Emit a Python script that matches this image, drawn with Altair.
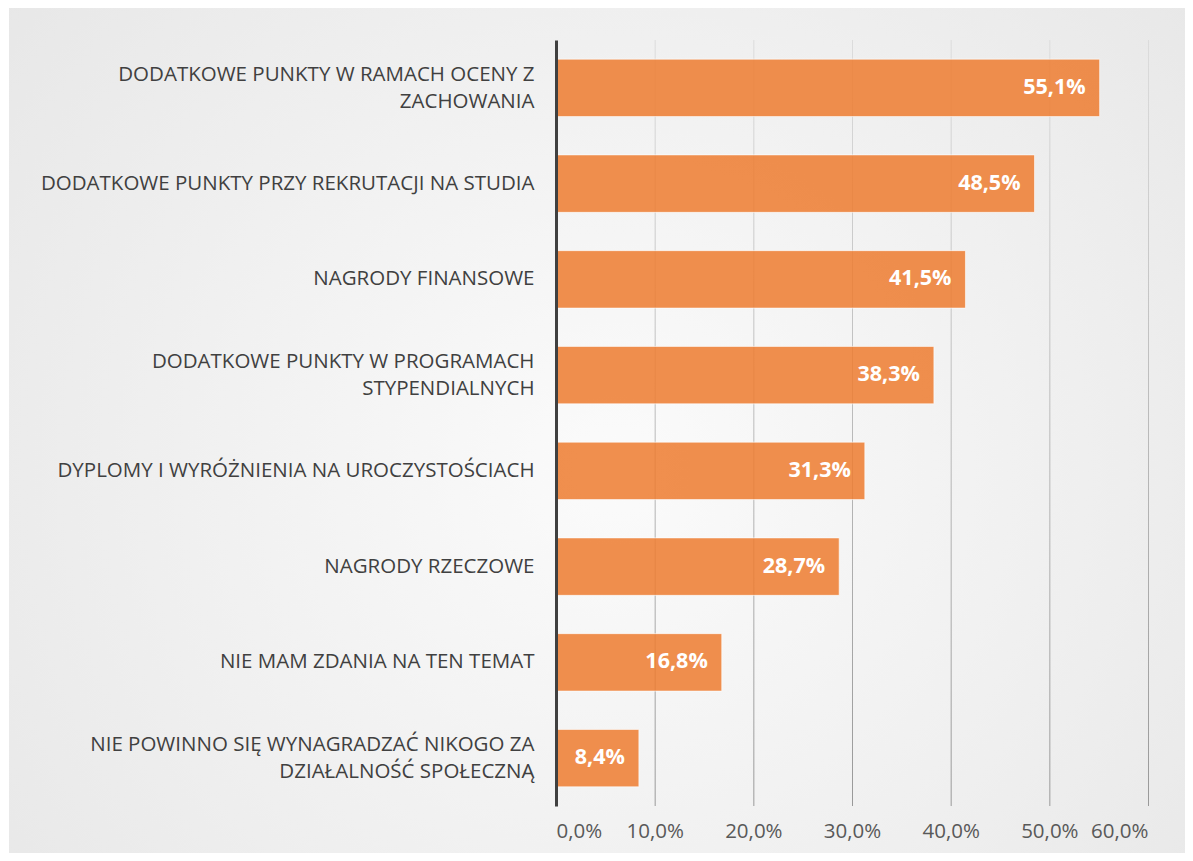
import altair as alt
import pandas as pd

categories = [
    "DODATKOWE PUNKTY W RAMACH OCENY Z|ZACHOWANIA",
    "DODATKOWE PUNKTY PRZY REKRUTACJI NA STUDIA",
    "NAGRODY FINANSOWE",
    "DODATKOWE PUNKTY W PROGRAMACH|STYPENDIALNYCH",
    "DYPLOMY I WYRÓŻNIENIA NA UROCZYSTOŚCIACH",
    "NAGRODY RZECZOWE",
    "NIE MAM ZDANIA NA TEN TEMAT",
    "NIE POWINNO SIĘ WYNAGRADZAĆ NIKOGO ZA|DZIAŁALNOŚĆ SPOŁECZNĄ",
]
values = [0.551, 0.485, 0.415, 0.383, 0.313, 0.287, 0.168, 0.084]
x_ticks = [0.0, 0.1, 0.2, 0.3, 0.4, 0.5, 0.6]

df = pd.DataFrame({"cat": categories, "val": values})
grid_df = pd.DataFrame({"t": x_ticks[1:]})
one_df = pd.DataFrame({"a": [0]})

FONT = "Open Sans"
W, H = 592, 766

x_scale = alt.Scale(domain=[0, 0.6], nice=False, zero=True)
y_scale = alt.Scale(paddingInner=0.4, paddingOuter=0.2)

x_axis = alt.Axis(
    values=x_ticks,
    labelExpr="replace(format(datum.value, '.1%'), '.', ',')",
    grid=False, domain=False, ticks=False,
    labelPadding=15, labelFontSize=20.5, labelColor="#595959", labelFont=FONT,
    title=None, zindex=1,
)
y_axis = alt.Axis(
    labelExpr="split(datum.label, '|')",
    domain=True, domainColor="#404040", domainWidth=3,
    ticks=False, grid=False, labelPadding=22, labelFontSize=20.5,
    labelColor="#404040", labelFont=FONT, labelLimit=700,
    labelLineHeight=27, labelAlign="right", title=None, zindex=1,
    labelOffset={
        "condition": {"test": "indexof(datum.label, '|') >= 0", "value": -13},
        "value": 0,
    },
)

bg = alt.Chart(one_df).mark_rect(
    fill={
        "gradient": "radial",
        "x1": 0.5, "y1": 0.5, "r1": 0,
        "x2": 0.5, "y2": 0.5, "r2": 0.5,
        "stops": [
            {"offset": 0, "color": "#fbfbfb"},
            {"offset": 1, "color": "#c3c3c3"},
        ],
    },
    strokeWidth=0,
).encode(
    x=alt.value(-547), x2=alt.value(665),
    y=alt.value(-1760), y2=alt.value(2620),
)

grid = alt.Chart(grid_df).mark_rect(
    x2Offset=1,
    fill={
        "gradient": "linear",
        "x1": 0, "y1": 0, "x2": 0, "y2": 1,
        "stops": [
            {"offset": 0, "color": "#dcdcdc"},
            {"offset": 1, "color": "#999999"},
        ],
    },
    strokeWidth=0,
).encode(
    x=alt.X("t:Q", scale=x_scale, axis=x_axis),
    x2=alt.X2("t"),
)

bars = alt.Chart(df).mark_bar(
    fill="#ED7D31", fillOpacity=0.86,
    stroke="#ffffff", strokeWidth=1, strokeOpacity=0.6,
).encode(
    x=alt.X("val:Q", scale=x_scale, axis=x_axis),
    y=alt.Y("cat:N", sort=categories, scale=y_scale, axis=y_axis),
)

labels = alt.Chart(df).transform_calculate(
    lbl="replace(format(datum.val, '.1%'), '.', ',')"
).mark_text(
    align="right", baseline="middle", dx=-14, color="white",
    fontWeight="bold", fontSize=21.5, font=FONT,
).encode(
    x=alt.X("val:Q", scale=x_scale, axis=x_axis),
    y=alt.Y("cat:N", sort=categories, scale=y_scale, axis=y_axis),
    text="lbl:N",
)

chart = alt.layer(bg, grid, bars, labels).properties(
    width=W, height=H,
    autosize=alt.AutoSizeParams(type="none"),
    padding={"left": 548, "top": 32, "right": 37, "bottom": 47},
    background="white",
).configure_view(stroke=None)

chart.save("out.html", embed_options={"renderer": "svg", "actions": False})
